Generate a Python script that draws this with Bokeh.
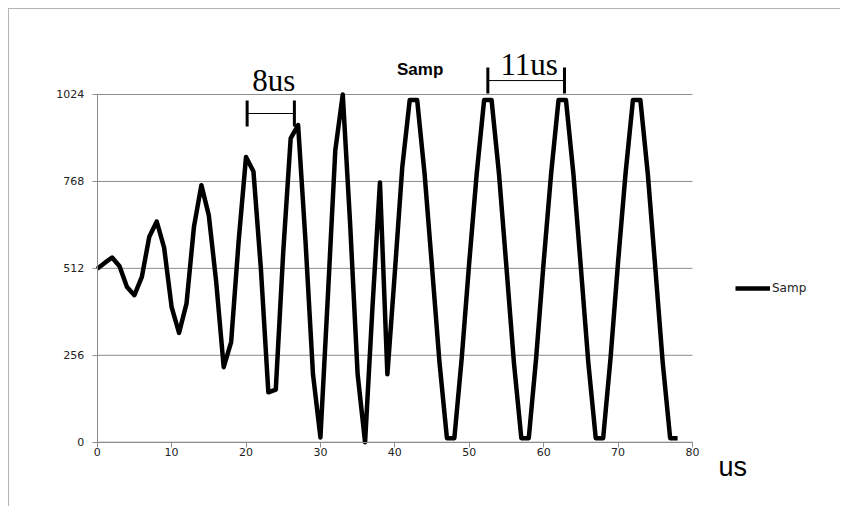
from bokeh.plotting import figure
from bokeh.models import (Range1d, FixedTicker, Legend, LegendItem, Label, LabelSet,
                          Whisker, TeeHead, ColumnDataSource)
from bokeh.embed import file_html
from bokeh.resources import INLINE

# ---- data ----
time_us = list(range(79))
samp = [511, 528, 544, 518, 457, 433, 487, 605, 650, 572,
        398, 322, 408, 634, 757, 668, 470, 221, 295, 590,
        840, 797, 510, 147, 155, 560, 895, 934, 590, 200,
        14, 430, 860, 1024, 640, 200, 0, 400, 765, 200,
        500, 810, 1008, 1008, 790, 515, 235, 12, 12, 250,
        530, 790, 1008, 1008, 790, 515, 235, 12, 12, 250,
        530, 790, 1008, 1008, 790, 515, 235, 12, 12, 250,
        530, 790, 1008, 1008, 790, 515, 235, 12, 12]

x_ticks = [0, 10, 20, 30, 40, 50, 60, 70, 80]
y_ticks = [0, 256, 512, 768, 1024]

# interval annotations (brackets)
bracket_text = ["8us", "11us"]
bracket_start = [20.15, 52.5]
bracket_end = [26.5, 62.8]
bracket_level = [968, 1065]
bracket_text_level = [1035, 1081]

series_name = "Samp"
title_text = "Samp"
x_unit = "us"

GRID = "#8c8c8c"
TXT = "#222222"

# the frame covers the whole chart area; axes are pinned at 0 and bounded to the data area
p = figure(width=832, height=498, output_backend="svg", toolbar_location=None,
           x_range=Range1d(-5.74, 100.03), y_range=Range1d(-121.6, 1274.3),
           min_border_left=45, min_border_right=0, min_border_top=0, min_border_bottom=24)
p.styles = {"margin-left": "8px", "margin-top": "8px",
            "border-left": "1px solid #b4b4b4", "border-top": "1px solid #b4b4b4"}
p.outline_line_color = None
p.background_fill_color = "white"
p.border_fill_color = "white"
p.xgrid.grid_line_color = None
p.ygrid.grid_line_color = None

# horizontal gridlines at the y ticks, spanning the x tick range
p.segment(x0=[x_ticks[0]] * len(y_ticks), x1=[x_ticks[-1]] * len(y_ticks),
          y0=y_ticks, y1=y_ticks, line_color=GRID, line_width=1)

r = p.line(time_us, samp, line_color="black", line_width=4.5, line_join="round")

# axes
for ax in (p.xaxis[0], p.yaxis[0]):
    ax.axis_line_color = GRID
    ax.axis_line_width = 1
    ax.major_tick_line_color = GRID
    ax.major_tick_out = 5
    ax.major_tick_in = 0
    ax.minor_tick_line_color = None
    ax.major_label_text_font = "DejaVu Sans"
    ax.major_label_text_font_size = "11px"
    ax.major_label_text_color = TXT
    ax.fixed_location = 0
p.xaxis.ticker = FixedTicker(ticks=x_ticks)
p.yaxis.ticker = FixedTicker(ticks=y_ticks)
p.xaxis.bounds = (x_ticks[0], x_ticks[-1])
p.yaxis.bounds = (y_ticks[0], y_ticks[-1])
p.xaxis.major_label_standoff = 1
p.yaxis.major_label_standoff = 8

# legend
legend = Legend(items=[LegendItem(label=series_name, renderers=[r])],
                location=(681, 185), orientation="vertical",
                border_line_color=None, background_fill_alpha=0,
                padding=0, margin=0, glyph_width=35, glyph_height=20,
                label_standoff=2, label_text_font="DejaVu Sans",
                label_text_font_size="12px", label_text_color=TXT)
p.add_layout(legend)

# title
p.add_layout(Label(x=43.4, y=1098, text=title_text, text_font="Liberation Sans",
                   text_font_style="bold", text_font_size="17px", text_color="black",
                   text_align="center", text_baseline="middle"))

# axis unit
p.add_layout(Label(x=83.5, y=-72, text=x_unit, text_font="Liberation Sans",
                   text_font_size="27px", text_color="black",
                   text_align="left", text_baseline="middle"))

# brackets
bsrc = ColumnDataSource(dict(
    lower=bracket_start, upper=bracket_end, base=bracket_level,
    tx=[(a + b) / 2 + 0.4 for a, b in zip(bracket_start, bracket_end)],
    ty=bracket_text_level, text=bracket_text))
wh = Whisker(source=bsrc, base="base", lower="lower", upper="upper", dimension="width",
             line_color="black", line_width=1,
             lower_head=TeeHead(size=26, line_width=3, line_color="black"),
             upper_head=TeeHead(size=26, line_width=3, line_color="black"))
p.add_layout(wh)
p.add_layout(LabelSet(source=bsrc, x="tx", y="ty", text="text",
                      text_font="Liberation Serif", text_font_size="31px",
                      text_color="black", text_align="center", text_baseline="alphabetic"))

open("out.html", "w").write(file_html(p, INLINE))
